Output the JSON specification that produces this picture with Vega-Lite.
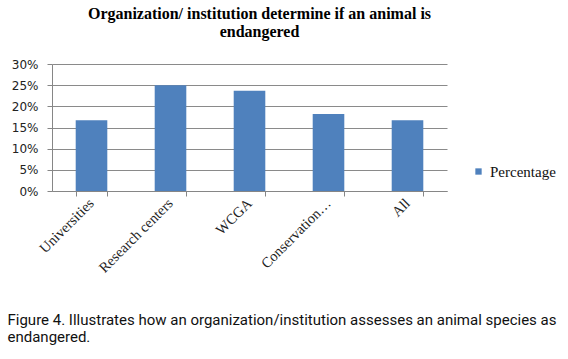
{
  "$schema": "https://vega.github.io/schema/vega-lite/v6.json",
  "width": 395,
  "height": 127,
  "autosize": {"type": "none"},
  "padding": {"left": 52, "top": 64, "right": 121, "bottom": 168},
  "background": "white",
  "title": {
    "text": ["Organization/ institution determine if an animal is", "endangered"],
    "font": "Liberation Serif, DejaVu Serif, serif",
    "fontSize": 16,
    "fontWeight": "bold",
    "color": "#000000",
    "lineHeight": 18,
    "anchor": "middle",
    "dx": 10,
    "offset": 18
  },
  "data": {
    "values": [
      {"category": "Universities", "value": 0.167, "series": "Percentage"},
      {"category": "Research centers", "value": 0.25, "series": "Percentage"},
      {"category": "WCGA", "value": 0.237, "series": "Percentage"},
      {"category": "Conservation…", "value": 0.182, "series": "Percentage"},
      {"category": "All", "value": 0.167, "series": "Percentage"}
    ]
  },
  "mark": {"type": "bar"},
  "encoding": {
    "x": {
      "field": "category",
      "type": "nominal",
      "sort": null,
      "scale": {"paddingInner": 0.6, "paddingOuter": 0.3},
      "axis": {
        "title": ["Figure 4. Illustrates how an organization/institution assesses an animal species as", "endangered."],
        "titleFont": "Roboto, Liberation Sans, sans-serif",
        "titleFontSize": 15,
        "titleFontWeight": "normal",
        "titleColor": "#111111",
        "titleAnchor": "start",
        "titleAlign": "left",
        "titleBaseline": "alphabetic",
        "titleLineHeight": 17,
        "titleX": -45,
        "titleY": 133,
        "labelAngle": -45,
        "labelAlign": "right",
        "labelBaseline": "middle",
        "labelFont": "Liberation Serif, DejaVu Serif, serif",
        "labelFontSize": 14.5,
        "labelColor": "#222222",
        "labelPadding": 5,
        "tickBand": "extent",
        "tickSize": 5,
        "tickColor": "#868686",
        "domainColor": "#868686",
        "grid": false
      }
    },
    "y": {
      "field": "value",
      "type": "quantitative",
      "scale": {"domain": [0, 0.3]},
      "axis": {
        "title": null,
        "values": [0, 0.05, 0.1, 0.15, 0.2, 0.25, 0.3],
        "format": ".0%",
        "labelFont": "DejaVu Sans",
        "labelFontSize": 12,
        "labelColor": "#222222",
        "labelPadding": 9,
        "tickSize": 5,
        "tickColor": "#868686",
        "domainColor": "#868686",
        "grid": true,
        "gridColor": "#8a8a8a",
        "gridWidth": 1
      }
    },
    "color": {
      "field": "series",
      "type": "nominal",
      "scale": {"range": ["#4f81bd"]},
      "legend": {
        "title": null,
        "orient": "none",
        "legendX": 419,
        "legendY": 100,
        "symbolType": "square",
        "symbolSize": 40,
        "labelFont": "Liberation Serif, DejaVu Serif, serif",
        "labelFontSize": 15,
        "labelColor": "#111111",
        "labelOffset": 4
      }
    }
  },
  "config": {
    "view": {"stroke": null},
    "legend": {"labelFont": "Liberation Serif, DejaVu Serif, serif"}
  }
}
